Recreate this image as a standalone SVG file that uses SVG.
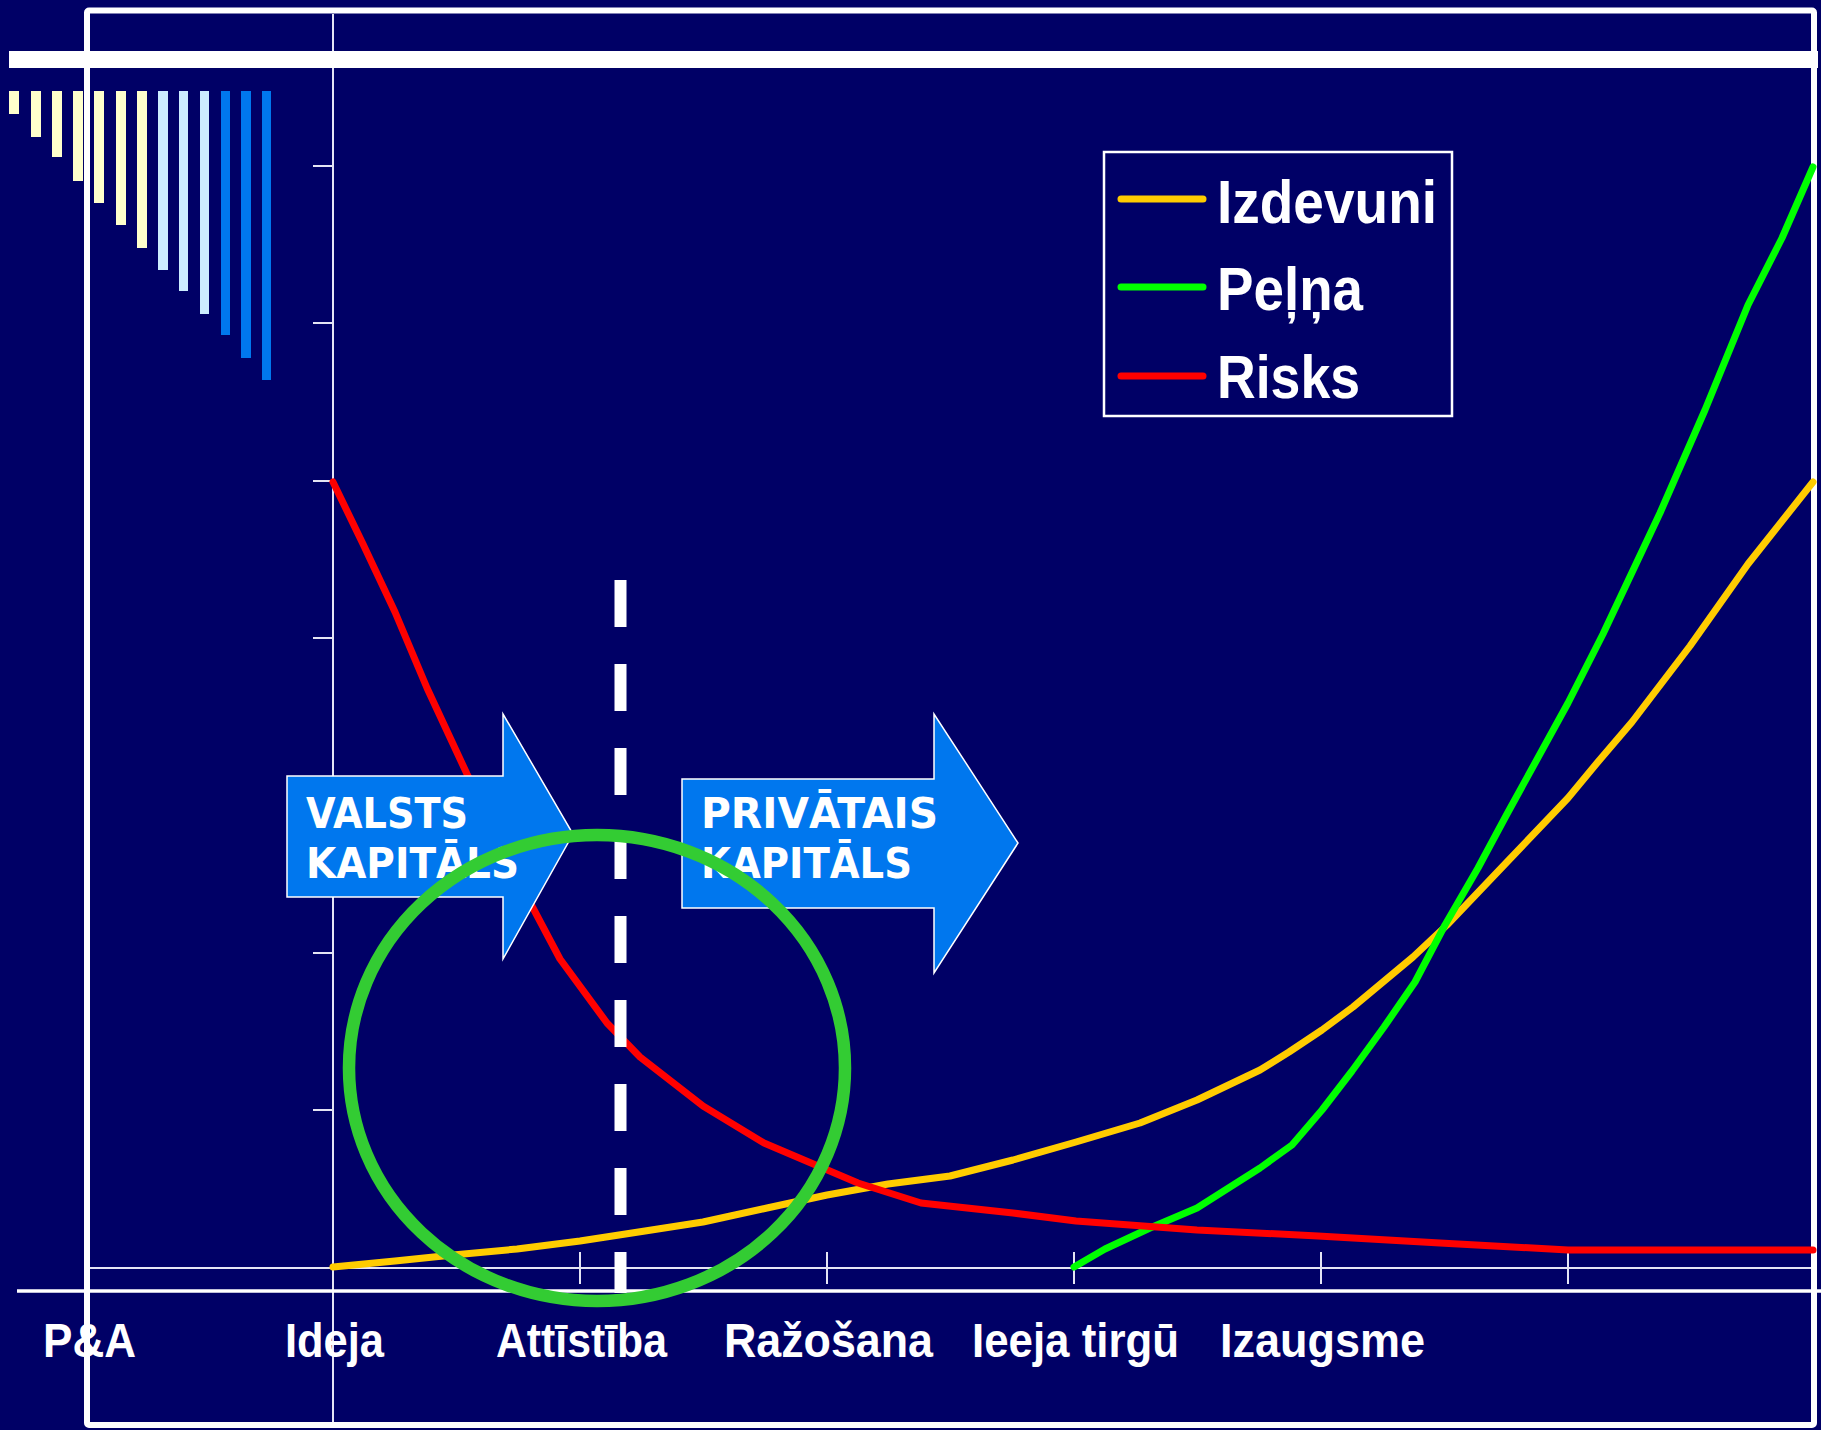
<svg xmlns="http://www.w3.org/2000/svg" width="1821" height="1430" viewBox="0 0 1821 1430">
<style>
.ax{stroke:#E4E4F4;stroke-width:2;fill:none}
.bw{fill:#FFFFCC}.bl{fill:#CCECFF}.bb{fill:#0077EE}
.cur{fill:none;stroke-width:7;stroke-linejoin:round;stroke-linecap:round}
.lbl{font-family:"Liberation Sans",Arial,sans-serif;font-weight:bold;fill:#FFFFFF}
.arr{fill:#0077EE;stroke:#FFFFFF;stroke-width:1.5}
.atx{font-family:"DejaVu Sans","Liberation Sans",sans-serif;font-weight:bold;font-size:42px;fill:#FFFFFF}
</style>
<rect x="0" y="0" width="1821" height="1430" fill="#000066"/>

<g id="bars">
<rect class="bw" x="9" y="91" width="10" height="23"/>
<rect class="bw" x="31" y="91" width="10" height="46"/>
<rect class="bw" x="52" y="91" width="10" height="66"/>
<rect class="bw" x="73" y="91" width="10" height="90"/>
<rect class="bw" x="94" y="91" width="10" height="112"/>
<rect class="bw" x="116" y="91" width="10" height="134"/>
<rect class="bw" x="137" y="91" width="10" height="157"/>
<rect class="bl" x="158" y="91" width="10" height="179"/>
<rect class="bl" x="179" y="91" width="9" height="200"/>
<rect class="bl" x="200" y="91" width="9" height="223"/>
<rect class="bb" x="221" y="91" width="9" height="244"/>
<rect class="bb" x="241" y="91" width="10" height="267"/>
<rect class="bb" x="262" y="91" width="9" height="289"/>
</g>

<g id="frame">
<rect x="87" y="10.5" width="1727" height="1414.5" rx="2" fill="none" stroke="#FFFFFF" stroke-width="6"/>
</g>

<g id="axes">
<line class="ax" x1="333" y1="14" x2="333" y2="1422"/>
<line class="ax" x1="90" y1="1268" x2="1811" y2="1268"/>
<line x1="17" y1="1291" x2="1821" y2="1291" stroke="#FFFFFF" stroke-width="3.5"/>
<g class="ax">
<line x1="313" y1="166" x2="333" y2="166"/>
<line x1="313" y1="323" x2="333" y2="323"/>
<line x1="313" y1="481" x2="333" y2="481"/>
<line x1="313" y1="638" x2="333" y2="638"/>
<line x1="313" y1="795" x2="333" y2="795"/>
<line x1="313" y1="953" x2="333" y2="953"/>
<line x1="313" y1="1110" x2="333" y2="1110"/>
<line x1="580" y1="1252" x2="580" y2="1284"/>
<line x1="827" y1="1252" x2="827" y2="1284"/>
<line x1="1074" y1="1252" x2="1074" y2="1284"/>
<line x1="1321" y1="1252" x2="1321" y2="1284"/>
<line x1="1568" y1="1252" x2="1568" y2="1284"/>
</g>
</g>

<g id="axis-labels" class="lbl" font-size="49">
<text x="43" y="1357" textLength="93" lengthAdjust="spacingAndGlyphs">P&amp;A</text>
<text x="285" y="1357" textLength="99" lengthAdjust="spacingAndGlyphs">Ideja</text>
<text x="496" y="1357" textLength="171" lengthAdjust="spacingAndGlyphs">Attīstība</text>
<text x="724" y="1357" textLength="209" lengthAdjust="spacingAndGlyphs">Ražošana</text>
<text x="972" y="1357" textLength="207" lengthAdjust="spacingAndGlyphs">Ieeja tirgū</text>
<text x="1220" y="1357" textLength="205" lengthAdjust="spacingAndGlyphs">Izaugsme</text>
</g>

<g id="topbar">
<rect x="9" y="51" width="1809" height="17" fill="#FFFFFF"/>
</g>

<g id="connectors">
<polyline id="izdevuni" class="cur" stroke="#FFCC00" points="333,1267 395,1261 453,1255 517,1249 580,1241 645,1231 703,1222 767,1208 827,1195 888,1184 950,1176 1013,1160 1076,1142 1140,1123 1197,1100 1260,1070 1289,1052 1322,1030 1353,1007 1413,957 1447,925 1507,862 1568,798 1597,763 1632,722 1690,646 1748,564 1813,482"/>
<polyline id="pelna" class="cur" stroke="#00FF00" points="1074,1267 1105,1249 1150,1228 1197,1208 1260,1168 1292,1145 1322,1110 1352,1071 1384,1027 1415,982 1445,925 1478,868 1507,814 1568,703 1603,634 1660,513 1705,410 1748,305 1782,238 1813,167"/>
<polyline id="risks" class="cur" stroke="#FF0000" points="333,482 363,544 395,612 427,688 467,774 500,840 533,908 560,959 607,1023 640,1057 703,1106 764,1143 858,1183 921,1203 1013,1213 1076,1221 1197,1230 1318,1236 1440,1243 1568,1250 1813,1250"/>
</g>

<g id="legend">
<rect x="1104" y="152" width="348" height="264" fill="#000066" stroke="#FFFFFF" stroke-width="2.5"/>
<line x1="1121" y1="199" x2="1203" y2="199" stroke="#FFCC00" stroke-width="7" stroke-linecap="round"/>
<line x1="1121" y1="287" x2="1203" y2="287" stroke="#00FF00" stroke-width="7" stroke-linecap="round"/>
<line x1="1121" y1="376" x2="1203" y2="376" stroke="#FF0000" stroke-width="7" stroke-linecap="round"/>
<g class="lbl" font-size="62">
<text x="1217" y="223" textLength="220" lengthAdjust="spacingAndGlyphs">Izdevuni</text>
<text x="1217" y="310" textLength="146" lengthAdjust="spacingAndGlyphs">Peļņa</text>
<text x="1217" y="398" textLength="143" lengthAdjust="spacingAndGlyphs">Risks</text>
</g>
</g>

<g id="arrow-valsts">
<polygon class="arr" points="287,776 503,776 503,714 573,834 503,959 503,897 287,897"/>
<text class="atx" x="306" y="828" textLength="162" lengthAdjust="spacingAndGlyphs">VALSTS</text>
<text class="atx" x="306" y="878" textLength="213" lengthAdjust="spacingAndGlyphs">KAPITĀLS</text>
</g>

<g id="arrow-privatais">
<polygon class="arr" points="682,779 934,779 934,714 1018,843 934,973 934,908 682,908"/>
<text class="atx" x="701" y="828" textLength="237" lengthAdjust="spacingAndGlyphs">PRIVĀTAIS</text>
<text class="atx" x="701" y="878" textLength="211" lengthAdjust="spacingAndGlyphs">KAPITĀLS</text>
</g>

<g id="divider">
<line x1="620.5" y1="580" x2="620.5" y2="1293" stroke="#FFFFFF" stroke-width="12" stroke-dasharray="47 37"/>
</g>

<g id="circle">
<ellipse cx="597" cy="1068" rx="248" ry="233" fill="none" stroke="#33CC33" stroke-width="12.5"/>
</g>
</svg>
